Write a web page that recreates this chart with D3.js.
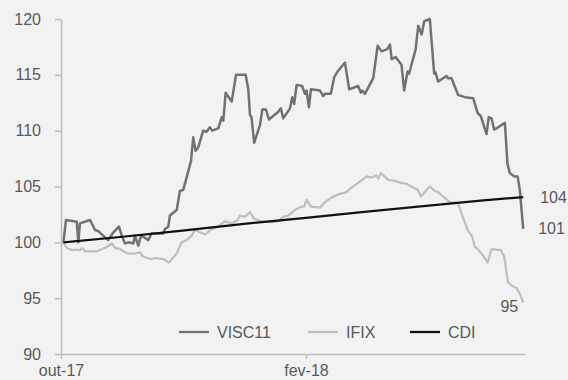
<!DOCTYPE html>
<html>
<head>
<meta charset="utf-8">
<script src="https://cdn.jsdelivr.net/npm/d3@7"></script>
<style>
  html, body { margin: 0; padding: 0; background: #f2f2f2; }
  svg { display: block; font-family: Arial, "Liberation Sans", sans-serif; }
</style>
</head>
<body>
<svg id="chart" width="568" height="380"></svg>
<script>
// ---- DATA (x = days since 2017-10-01, y = index value) ----
const seriesNames = ["VISC11", "IFIX", "CDI"];

const visc11 = [
  [1.2,100.0],[2.5,102.0],[7.9,101.85],[8.7,100.0],[9.5,101.7],[14.6,102.0],[17.1,101.1],[18.7,101.0],
  [23.7,100.2],[26.3,100.9],[29.1,101.4],[30.5,100.6],[32.1,99.9],[33.8,100.0],[36.3,99.9],[37.1,100.6],
  [38.8,99.7],[40.2,100.6],[41.3,100.5],[43.8,100.2],[45.5,100.8],[51.4,100.8],[52.2,101.2],[53.9,101.4],
  [54.7,102.4],[58.1,102.9],[59.7,104.6],[61.4,104.7],[65.3,107.3],[66.4,109.4],[67.6,108.2],[68.9,108.5],
  [71.4,110.0],[73.1,109.9],[74.8,110.3],[75.9,110.0],[79.0,110.2],[80.7,111.2],[81.5,110.9],[82.7,113.4],
  [85.7,112.6],[87.9,115.0],[92.7,115.0],[94.0,113.8],[94.9,111.4],[95.7,111.2],[97.0,108.9],[99.9,110.5],
  [101.1,111.9],[102.9,111.9],[104.4,111.0],[109.1,111.7],[110.4,112.0],[111.6,111.1],[115.0,112.0],
  [116.1,113.0],[117.1,112.4],[118.3,114.1],[121.1,114.0],[122.5,113.3],[123.3,113.6],[124.5,112.1],
  [125.5,113.7],[130.0,113.6],[131.7,113.1],[132.5,113.3],[135.5,113.3],[137.2,114.8],[138.9,115.3],
  [142.6,116.1],[144.7,113.7],[149.2,114.0],[150.6,113.4],[151.3,113.6],[152.6,113.3],[156.8,114.7],
  [159.0,117.6],[161.0,117.1],[163.8,117.3],[165.2,117.7],[166.0,116.4],[168.0,116.6],[171.0,115.9],
  [172.3,113.6],[174.0,115.3],[174.8,115.1],[178.1,117.3],[179.4,119.4],[181.1,118.6],[182.4,119.8],
  [185.2,120.0],[187.4,115.1],[188.1,115.2],[189.4,114.4],[193.6,114.9],[194.4,114.7],[196.1,114.7],
  [199.4,113.2],[202.8,113.0],[207.0,112.9],[209.2,111.6],[210.8,111.3],[213.7,109.7],[214.8,111.2],
  [216.2,111.1],[217.5,110.1],[219.5,110.3],[222.9,110.7],[224.2,107.0],[225.4,106.2],[227.6,105.9],
  [229.3,105.9],[230.4,104.7],[232.1,101.2]
];

const ifix = [
  [1.2,100.0],[2.9,99.5],[5.4,99.3],[7.9,99.35],[9.5,99.3],[10.7,99.5],[12.0,99.2],[17.9,99.2],
  [22.1,99.5],[25.5,99.9],[27.1,99.5],[29.6,99.4],[31.3,99.2],[33.8,99.0],[37.1,99.0],[39.7,99.1],
  [40.8,98.8],[43.0,98.6],[45.5,98.5],[47.2,98.6],[51.4,98.5],[54.2,98.2],[58.1,99.0],[60.6,100.0],
  [63.1,100.2],[65.6,100.6],[67.3,101.1],[69.8,100.9],[72.3,100.7],[74.8,101.1],[79.0,101.4],[82.3,101.9],
  [85.7,101.7],[88.7,102.0],[89.9,102.4],[92.4,102.3],[94.9,102.7],[97.0,102.1],[100.8,101.9],[105.8,101.8],
  [109.1,101.9],[111.6,102.3],[114.1,102.4],[117.5,102.9],[120.8,103.2],[122.1,103.2],[123.3,103.8],
  [125.5,103.2],[130.0,103.1],[132.5,103.6],[135.9,104.0],[139.2,104.3],[143.4,104.5],[145.1,104.8],
  [147.6,105.1],[150.6,105.5],[153.5,105.9],[156.0,105.8],[158.5,106.0],[159.3,105.7],[160.6,106.2],
  [164.3,105.6],[167.7,105.5],[171.0,105.3],[173.5,105.25],[176.9,104.9],[179.1,104.7],[180.7,104.1],
  [182.7,104.5],[185.2,105.0],[187.7,104.6],[189.4,104.5],[191.9,104.1],[195.3,103.6],[199.4,103.5],
  [201.1,102.6],[204.2,101.1],[206.5,100.5],[207.8,99.6],[209.8,99.3],[212.0,98.8],[214.2,98.2],
  [216.2,99.4],[220.9,99.3],[222.6,98.7],[224.5,96.4],[226.6,96.1],[228.8,95.9],[230.4,95.4],[232.1,94.6]
];

const cdi = [
  [1.2,100.0],[31,100.5],[61,101.05],[92,101.65],[123,102.2],[151,102.7],[182,103.25],[212,103.75],[232.1,104.05]
];

const yTicks = [90, 95, 100, 105, 110, 115, 120];
const xTickDates = ["2017-10-01", "2018-02-01"];
const xTickLabels = ["out-17", "fev-18"];
const endLabels = ["104", "101", "95"];
const xDomainDates = ["2017-10-01", "2018-05-22"];

// ---- DRAWING ----
const parse = d3.utcParse("%Y-%m-%d");
const start = parse(xDomainDates[0]);
const toDate = d => new Date(start.getTime() + d * 86400000);

const svg = d3.select("#chart");
const x = d3.scaleUtc().domain(xDomainDates.map(parse)).range([61, 525]);
const y = d3.scaleLinear().domain([90, 120]).range([354, 19]);

const textColor = "#595959";
const axisColor = "#bfbfbf";

// Y axis
const yAxis = svg.append("g").attr("transform", "translate(61,0)")
  .call(d3.axisLeft(y).tickValues(yTicks).tickSize(6).tickPadding(14).tickSizeOuter(0));
// X axis
const xAxis = svg.append("g").attr("transform", "translate(0,354)")
  .call(d3.axisBottom(x).tickValues(xTickDates.map(parse))
    .tickFormat((d, i) => xTickLabels[i]).tickSize(5).tickPadding(6).tickSizeOuter(0));

[yAxis, xAxis].forEach(g => {
  g.select(".domain").attr("stroke", axisColor).attr("stroke-width", 1.5);
  g.selectAll(".tick line").attr("stroke", axisColor).attr("stroke-width", 1.5);
  g.selectAll(".tick text").attr("fill", textColor).style("font-size", "16px")
    .style("font-family", "Arial, 'Liberation Sans', sans-serif");
});

const line = d3.line().x(d => x(toDate(d[0]))).y(d => y(d[1]));

const styles = {
  VISC11: { color: "#767171", width: 2.5 },
  IFIX: { color: "#bfbfbf", width: 2.25 },
  CDI: { color: "#111111", width: 2.25 }
};
const seriesData = { VISC11: visc11, IFIX: ifix, CDI: cdi };

["IFIX", "VISC11", "CDI"].forEach(name => {
  svg.append("path")
    .datum(seriesData[name])
    .attr("fill", "none")
    .attr("stroke", styles[name].color)
    .attr("stroke-width", styles[name].width)
    .attr("stroke-linejoin", "round")
    .attr("d", line);
});

// End labels
const lastOf = arr => arr[arr.length - 1];
const endPos = [
  { t: endLabels[0], px: x(toDate(lastOf(cdi)[0])) + 17, py: y(lastOf(cdi)[1]) },
  { t: endLabels[1], px: x(toDate(lastOf(visc11)[0])) + 15, py: y(lastOf(visc11)[1]) - 1 },
  { t: endLabels[2], px: x(toDate(lastOf(ifix)[0])) - 5, py: y(lastOf(ifix)[1]) + 4, anchor: "end" }
];
endPos.forEach(p => {
  svg.append("text")
    .attr("x", p.px).attr("y", p.py).attr("dy", "0.35em")
    .attr("text-anchor", p.anchor || "start")
    .attr("fill", textColor).style("font-size", "16px")
    .text(p.t);
});

// Legend
const legendX = [179, 308, 410];
seriesNames.forEach((name, i) => {
  const g = svg.append("g").attr("transform", `translate(${legendX[i]},332)`);
  g.append("line").attr("x1", 0).attr("x2", 30).attr("y1", 0).attr("y2", 0)
    .attr("stroke", styles[name].color).attr("stroke-width", 2.25);
  g.append("text").attr("x", 38).attr("y", 0).attr("dy", "0.35em")
    .attr("fill", textColor).style("font-size", "16px").text(name);
});
</script>
</body>
</html>
